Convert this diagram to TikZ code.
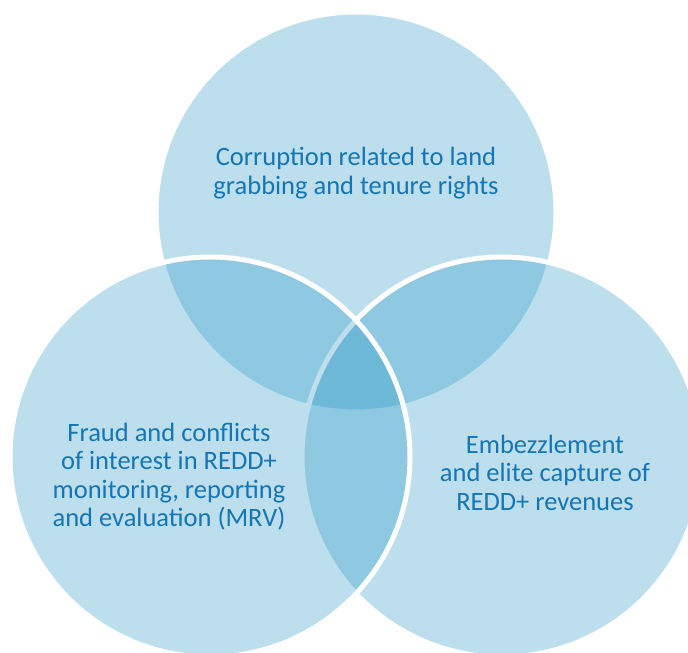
\documentclass[tikz,border=0pt]{standalone}
\usepackage{fontspec}
\setmainfont{Carlito}
\definecolor{ringblue}{RGB}{31,148,196}
\definecolor{labelblue}{RGB}{20,118,180}
\tikzset{
	ring/.style={fill=ringblue,fill opacity=.29,draw=white,line width=5pt},
	lbl/.style={text=labelblue,align=center,font=\fontsize{26.5}{28.5}\selectfont}
}
\begin{document}
\begin{tikzpicture}[x=1pt,y=1pt]
		\clip (0,0) rectangle (688,653);
		\fill[white] (0,0) rectangle (688,653);
		% order matters: top, then right, then left on top
		\draw[ring] (356,441) circle[radius=200pt];
		\draw[ring] (502,196) circle[radius=200pt];
		\draw[ring] (210,196) circle[radius=200pt];
		\node[lbl] (land) at (356,480) {Corruption related to land\\grabbing and tenure rights};
		\node[lbl] (mrv) at (169,176.5) {Fraud and conflicts\\of interest in REDD+\\monitoring, reporting\\and evaluation (MRV)};
		\node[lbl] (revenue) at (545,180.5) {Embezzlement\\and elite capture of\\REDD+ revenues};
	\end{tikzpicture}
\end{document}
